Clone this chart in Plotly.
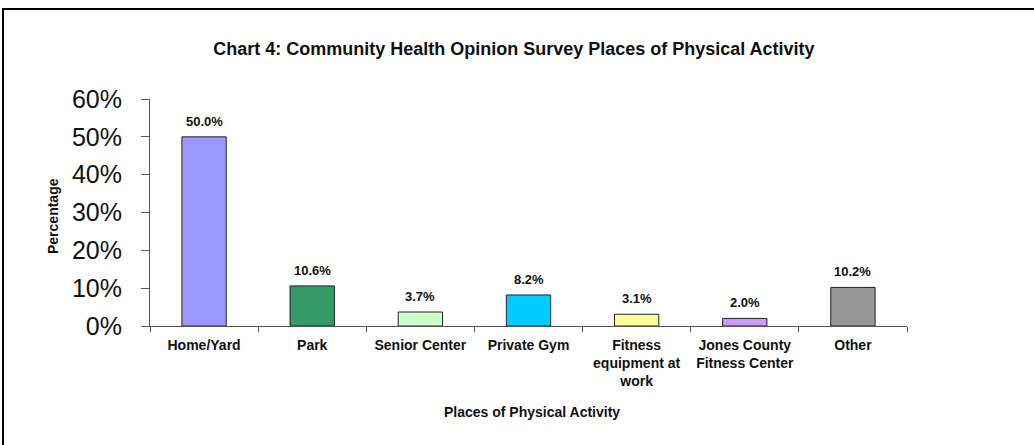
import plotly.graph_objects as go

# Survey results: share of respondents by place of physical activity
places = [
    "Home/Yard",
    "Park",
    "Senior Center",
    "Private Gym",
    "Fitness<br>equipment at<br>work",
    "Jones County<br>Fitness Center",
    "Other",
]
percentages = [50.0, 10.6, 3.7, 8.2, 3.1, 2.0, 10.2]
bar_colors = ["#9999FF", "#339966", "#CCFFCC", "#00CCFF", "#FFFF99", "#CC99FF", "#969696"]
y_ticks = [0, 10, 20, 30, 40, 50, 60]
y_tick_labels = [f"{v}%" for v in y_ticks]

FONT = "Arial, Liberation Sans, sans-serif"

fig = go.Figure(
    go.Bar(
        x=places,
        y=percentages,
        marker=dict(color=bar_colors, line=dict(color="#222222", width=1)),
        showlegend=False,
        hoverinfo="x+y",
    )
)

# value labels sitting just above each bar
value_labels = [
    dict(
        x=p, y=v, xref="x", yref="y",
        text=f"<b>{v:.1f}%</b>",
        showarrow=False,
        xanchor="center", yanchor="bottom",
        yshift=6,
        font=dict(size=13, family=FONT, color="#111111"),
    )
    for p, v in zip(places, percentages)
]

fig.update_layout(
    width=1034,
    height=445,
    margin=dict(l=150, r=127, t=99, b=119),
    paper_bgcolor="white",
    plot_bgcolor="white",
    bargap=0.59,
    font=dict(family=FONT, color="#111111"),
    title=dict(
        text="<b>Chart 4: Community Health Opinion Survey Places of Physical Activity</b>",
        x=0.497,
        xanchor="center",
        y=1 - 49 / 445,
        yanchor="middle",
        font=dict(size=18, family=FONT, color="#111111"),
    ),
    xaxis=dict(
        showline=True,
        linecolor="#555555",
        linewidth=1,
        ticks="outside",
        tickson="boundaries",
        ticklen=5,
        tickcolor="#555555",
        ticklabelstandoff=6,
        tickfont=dict(size=14, family=FONT, color="#111111", weight="bold"),
        showgrid=False,
        zeroline=False,
    ),
    yaxis=dict(
        range=[0, 60],
        tickvals=y_ticks,
        ticktext=y_tick_labels,
        showline=True,
        linecolor="#555555",
        linewidth=1,
        ticks="outside",
        ticklen=8,
        tickcolor="#555555",
        ticklabelstandoff=14,
        tickfont=dict(size=25, family=FONT, color="#111111"),
        showgrid=False,
        zeroline=False,
    ),
    annotations=value_labels + [
        dict(
            text="<b>Percentage</b>",
            xref="paper", yref="paper",
            x=(53 - 150) / 757, y=(326 - 216) / 227,
            xanchor="center", yanchor="middle",
            textangle=-90,
            showarrow=False,
            font=dict(size=14, family=FONT, color="#111111"),
        ),
        dict(
            text="<b>Places of Physical Activity</b>",
            xref="paper", yref="paper",
            x=(532 - 150) / 757, y=(326 - 412) / 227,
            xanchor="center", yanchor="middle",
            showarrow=False,
            font=dict(size=14, family=FONT, color="#111111"),
        ),
    ],
    shapes=[
        dict(
            type="rect",
            xref="paper", yref="paper",
            x0=(3 - 150) / 757, x1=(1045 - 150) / 757,
            y0=(326 - 460) / 227, y1=(326 - 9) / 227,
            line=dict(color="#000000", width=2),
            fillcolor="rgba(0,0,0,0)",
            layer="below",
        )
    ],
)

fig.write_html("out.html")
